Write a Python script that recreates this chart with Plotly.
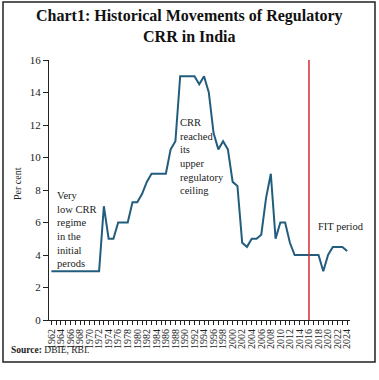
import plotly.graph_objects as go

years = list(range(1962, 2025))
crr = [3, 3, 3, 3, 3, 3, 3, 3, 3, 3, 3,          # 1962-1972
       7, 5, 5, 6, 6, 6, 7.25, 7.25, 7.75, 8.5,   # 1973-1982
       9, 9, 9, 9, 10.5, 11, 15, 15, 15, 15,      # 1983-1992
       14.5, 15, 14, 11.5, 10.5, 11, 10.5, 8.5, 8.25, 4.75,  # 1993-2002
       4.5, 5, 5, 5.25, 7.5, 9, 5, 6, 6, 4.75,    # 2003-2012
       4, 4, 4, 4, 4, 4, 3, 4, 4.5, 4.5,          # 2013-2022
       4.5, 4.25]                                 # 2023-2024
fit_year = 2016
title_lines = ["Chart1: Historical Movements of Regulatory", "CRR in India"]
note_low = ["Very", "low CRR", "regime", "in the", "initial", "perods"]
note_high = ["CRR", "reached", "its", "upper", "regulatory", "ceiling"]
note_fit = "FIT period"
y_title = "Per cent"
source_text = "<b>Source:</b> DBIE, RBI."

W, H = 379, 380
L, R, T, B = 49, 29, 60, 60
PW, PH = W - L - R, H - T - B

def px_x(x):
    return (x - L) / PW

def px_y(y):
    return (H - B - y) / PH

serif = "Liberation Serif"

fig = go.Figure()
fig.add_trace(go.Scatter(x=years, y=crr, mode="lines",
                         line=dict(color="#235d7d", width=2), showlegend=False))
fig.add_trace(go.Scatter(x=[fit_year, fit_year], y=[0, 16], mode="lines",
                         line=dict(color="#d42a32", width=1.5), showlegend=False))

fig.update_layout(
    width=W, height=H, autosize=False,
    margin=dict(l=L, r=R, t=T, b=B, pad=0),
    paper_bgcolor="white", plot_bgcolor="white",
    font=dict(family=serif, color="#222", size=11),
    xaxis=dict(range=[1961.5, 2024.6], tickmode="linear", tick0=1962, dtick=2,
               tickangle=-90, ticks="outside", ticklen=4, tickcolor="#222",
               tickfont=dict(size=10, family=serif), automargin=False,
               minor=dict(dtick=1, tick0=1962, ticks="outside", ticklen=4, tickcolor="#222"),
               showline=True, linecolor="#222", linewidth=1, showgrid=False, zeroline=False),
    yaxis=dict(range=[0, 16], tickmode="linear", tick0=0, dtick=2,
               ticks="outside", ticklen=5, tickcolor="#222", automargin=False,
               tickfont=dict(size=11, family=serif),
               showline=True, linecolor="#222", linewidth=1, showgrid=False, zeroline=False),
)

fig.add_annotation(text="<b>" + title_lines[0] + "</b><br><b>" + title_lines[1] + "</b>",
                   xref="paper", yref="paper",
                   x=px_x(189), y=px_y(5), xanchor="center", yanchor="top",
                   showarrow=False, font=dict(size=16, family=serif, color="#111"),
                   align="center")
fig.add_annotation(text=y_title, xref="paper", yref="paper", textangle=-90,
                   x=px_x(17), y=px_y(184), xanchor="center", yanchor="middle",
                   showarrow=False, font=dict(size=10, family=serif, color="#222"))
fig.add_annotation(text="<br>".join(note_low), xref="paper", yref="paper",
                   x=px_x(55), y=px_y(188), xanchor="left", yanchor="top",
                   showarrow=False, align="left", font=dict(size=10.5, family=serif, color="#222"))
fig.add_annotation(text="<br>".join(note_high), xref="paper", yref="paper",
                   x=px_x(178), y=px_y(115), xanchor="left", yanchor="top",
                   showarrow=False, align="left", font=dict(size=10.5, family=serif, color="#222"))
fig.add_annotation(text=note_fit, xref="paper", yref="paper",
                   x=px_x(316), y=px_y(227), xanchor="left", yanchor="middle",
                   showarrow=False, align="left", font=dict(size=10.5, family=serif, color="#222"))
fig.add_annotation(text=source_text, xref="paper", yref="paper",
                   x=px_x(9), y=px_y(350), xanchor="left", yanchor="middle",
                   showarrow=False, align="left", font=dict(size=9.5, family=serif, color="#222"))

fig.add_shape(type="rect", xref="paper", yref="paper",
              x0=px_x(3), x1=px_x(375), y0=px_y(362), y1=px_y(2),
              line=dict(color="#222", width=1.5), fillcolor="rgba(0,0,0,0)", layer="above")

fig.write_html("out.html", config={"displayModeBar": False},
               post_script="document.body.style.margin='0';document.body.style.padding='0';")
